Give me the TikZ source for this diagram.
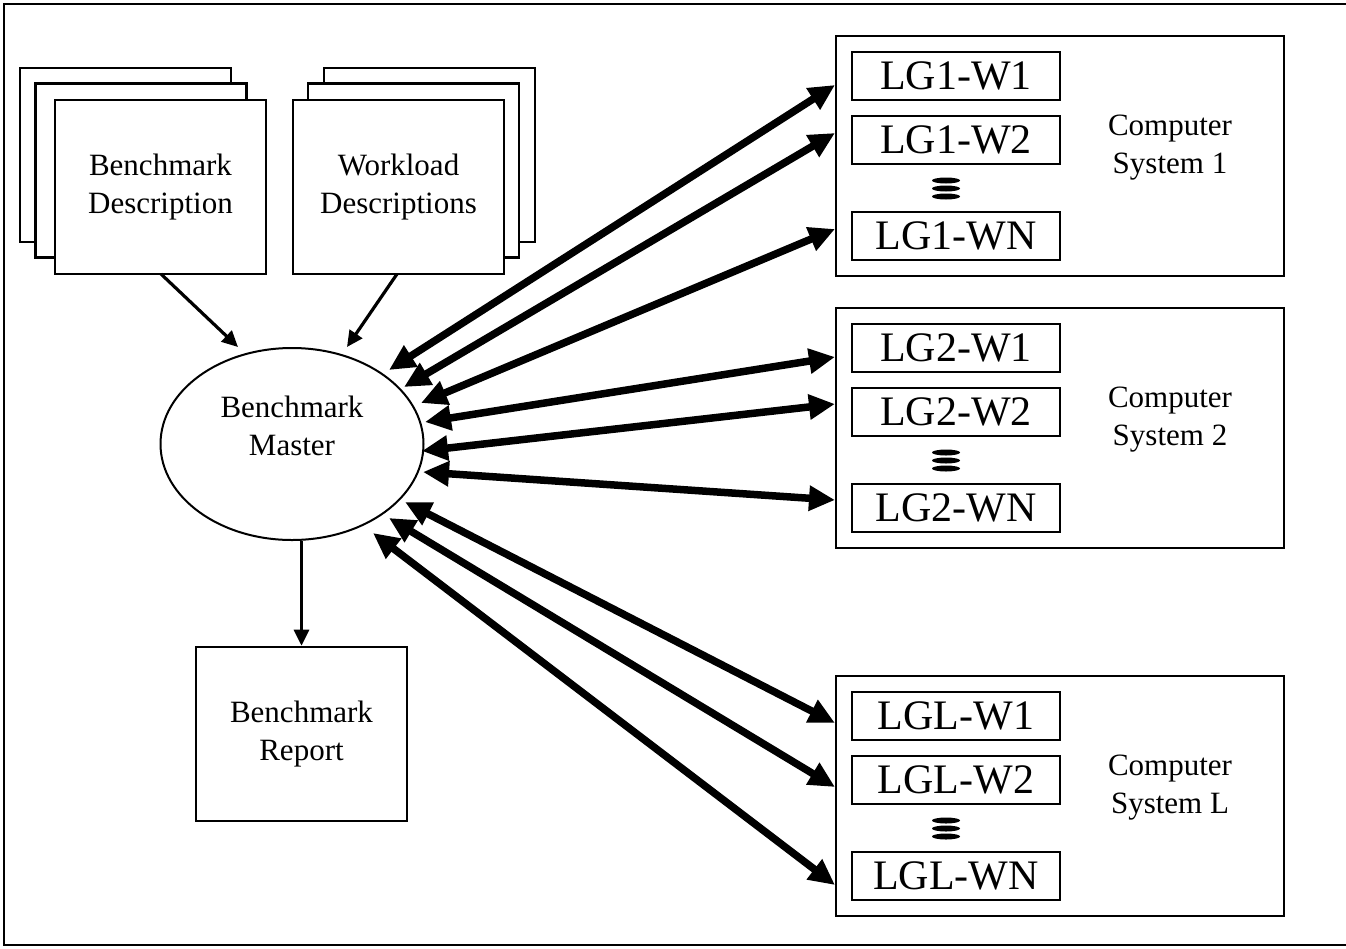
\documentclass[tikz,border=0pt]{standalone}
\usepackage{fontspec}
\setmainfont{Liberation Serif}
\usetikzlibrary{arrows.meta,shapes.geometric,calc}
\begin{document}
\begin{tikzpicture}[x=1pt,y=-1pt,
  sheet/.style={draw,line width=2.6pt,fill=white,inner sep=0pt,minimum width=211pt,minimum height=174pt},
  box/.style={sheet,align=center,font=\fontsize{31}{38}\selectfont},
  lgbox/.style={draw,line width=2.6pt,minimum width=208pt,minimum height=48pt,inner sep=0pt,font=\fontsize{42}{42}\selectfont},
  sysbox/.style={draw,line width=2.6pt,minimum width=448pt,minimum height=240pt,inner sep=0pt},
  feed/.style={line width=3.2pt,-{Triangle[length=16pt,width=15pt]}},
  bidir/.style={line width=7.5pt,{Triangle[length=26pt,width=24pt]}-{Triangle[length=26pt,width=24pt]}},
  lbl/.style={align=center,font=\fontsize{31}{38}\selectfont,inner sep=0pt}
]
\useasboundingbox (0,0) rectangle (1346,948);
\draw[line width=2.6pt] (1346,4) -- (4,4) -- (4,945) -- (1346,945);

% Benchmark description stack
\node[sheet] (bd3) at (125.5,155) {};
\node[sheet] (bd2) at (141,170.5) {};
\node[box] (bd) at (160.5,187) {Benchmark\\Description};
% Workload description stack
\node[sheet] (wd3) at (429.5,155) {};
\node[sheet] (wd2) at (413.5,170.5) {};
\node[box] (wd) at (398.5,187) {Workload\\Descriptions};

% Benchmark master
\node[ellipse,draw,line width=2pt,minimum width=263pt,minimum height=192pt,inner sep=0pt] (bm) at (292,444) {};
\node[lbl] (bmt) at (292,426) {Benchmark\\Master};

% Report
\node[box] (rep) at (301.5,734) {Benchmark\\Report};

\coordinate (bds) at (161,274);
\coordinate (bdt) at (238,347);
\coordinate (wds) at (397,274);
\coordinate (wdt) at (347,347);
\draw[feed] (bds) -- (bdt);
\draw[feed] (wds) -- (wdt);
\draw[feed] (bm.south -| rep.north) -- (rep.north);

% Computer systems
\foreach \s/\o in {1/0,2/272,L/640}{
  \node[sysbox] (cs\s) at (1060,156+\o) {};
  \node[lgbox] (lg\s a) at (956,76+\o) {LG\s-W1};
  \node[lgbox] (lg\s b) at (956,140+\o) {LG\s-W2};
  \node[lgbox] (lg\s n) at (956,236+\o) {LG\s-WN};
  \node[lbl] (cst\s) at (1170,148+\o) {Computer\\System \s};
  \fill (946,180.5+\o) ellipse [x radius=14pt, y radius=3pt];
  \fill (946,188.5+\o) ellipse [x radius=14pt, y radius=3pt];
  \fill (946,196.5+\o) ellipse [x radius=14pt, y radius=3pt];
}

% bidirectional links
\coordinate (e1) at (389,370); \coordinate (r1) at (835,85);
\coordinate (e2) at (404,387); \coordinate (r2) at (835,133);
\coordinate (e3) at (421,403); \coordinate (r3) at (835,229);
\coordinate (e4) at (425,422); \coordinate (r4) at (835,357);
\coordinate (e5) at (422,451); \coordinate (r5) at (835,404);
\coordinate (e6) at (423,472); \coordinate (r6) at (835,500);
\coordinate (e7) at (405,502); \coordinate (r7) at (835,723);
\coordinate (e8) at (389,518); \coordinate (r8) at (835,787);
\coordinate (e9) at (373,533); \coordinate (r9) at (835,885);
\foreach \i in {1,...,9}{ \draw[bidir] (e\i) -- (r\i); }
\end{tikzpicture}
\end{document}
